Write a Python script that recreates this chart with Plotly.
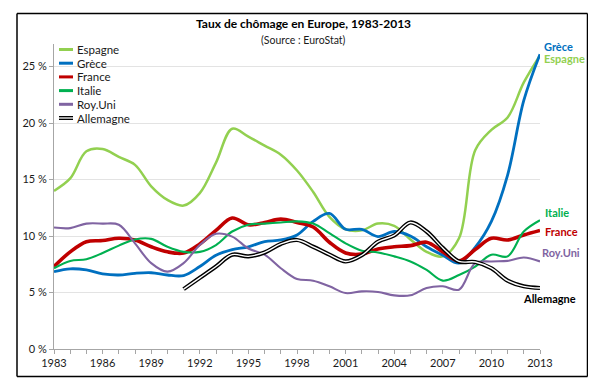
import plotly.graph_objects as go

# ---------------- data ----------------
years = list(range(1983, 2014))
series_names = ["Espagne", "Grèce", "France", "Italie", "Roy.Uni", "Allemagne"]

espagne = [14.0, 15.1, 17.5, 17.7, 17.0, 16.3, 14.4, 13.2, 12.7, 13.8,
           16.5, 19.5, 18.8, 18.0, 17.2, 15.8, 13.9, 11.7, 10.6, 10.5,
           11.1, 10.9, 9.7, 8.6, 8.2, 9.8, 17.6, 19.4, 20.5, 23.6, 26.0]
grece = [6.85, 7.1, 7.0, 6.65, 6.55, 6.7, 6.75, 6.55, 6.5, 7.3,
         8.3, 8.8, 9.05, 9.5, 9.65, 10.1, 11.3, 12.0, 10.6, 10.6,
         9.95, 10.4, 10.0, 9.05, 8.3, 7.6, 9.0, 11.3, 15.4, 22.0, 26.1]
france = [7.3, 8.6, 9.5, 9.6, 9.8, 9.65, 9.05, 8.6, 8.5, 9.3,
          10.5, 11.6, 11.0, 11.2, 11.5, 11.2, 10.8, 9.45, 8.5, 8.4,
          8.85, 9.05, 9.15, 9.45, 8.6, 7.8, 8.8, 9.8, 9.65, 10.1, 10.5]
italie = [7.15, 7.8, 7.95, 8.5, 9.15, 9.7, 9.75, 9.05, 8.6, 8.6,
          9.2, 10.4, 11.0, 11.1, 11.2, 11.3, 11.1, 10.25, 9.35, 8.7,
          8.55, 8.2, 7.75, 7.0, 6.05, 6.55, 7.3, 8.35, 8.2, 10.4, 11.4]
royuni = [10.75, 10.7, 11.1, 11.1, 11.0, 9.35, 7.6, 6.85, 7.6, 9.2,
          10.2, 9.95, 8.9, 8.35, 7.15, 6.2, 6.05, 5.55, 4.95, 5.1,
          5.05, 4.75, 4.75, 5.4, 5.55, 5.25, 7.6, 7.75, 7.8, 8.1, 7.75]
allemagne_years = list(range(1991, 2014))
allemagne = [5.3, 6.3, 7.3, 8.35, 8.2, 8.55, 9.3, 9.65, 9.05, 8.35,
             7.75, 8.3, 9.5, 10.05, 11.2, 10.4, 8.95, 7.75, 7.7, 7.15,
             6.05, 5.55, 5.4]

y_ticks = [0, 5, 10, 15, 20, 25]
x_labels_every = 3

# ---------------- style ----------------
FONT = "Lato, Liberation Sans, Arial, sans-serif"
colors = {"Espagne": "#92D050", "Grèce": "#0070C0", "France": "#C00000",
          "Italie": "#00B050", "Roy.Uni": "#8064A2", "Allemagne": "#000000"}
widths = {"Espagne": 2.5, "Grèce": 2.8, "France": 3.6, "Italie": 2.1,
          "Roy.Uni": 2.1, "Allemagne": 4.2}

# page body has an 8px default margin: figure drawn 8px in from the window corner
OFF = 8
W, H = 596 - OFF, 384 - OFF
ML, MT = 54 - OFF, 44 - OFF
MR, MB = W - (540 - OFF), H - (349 - OFF)
PW, PH = W - ML - MR, H - MT - MB


def px2paper(x, y):
    """window pixel -> paper coordinates"""
    return (x - OFF - ML) / PW, (H - MB - (y - OFF)) / PH


data = {"Espagne": (years, espagne), "Grèce": (years, grece),
        "France": (years, france), "Italie": (years, italie),
        "Roy.Uni": (years, royuni), "Allemagne": (allemagne_years, allemagne)}

fig = go.Figure()

# outer frame of the chart area (four paper-referenced lines)
BL, BT, BR, BB = 17, 13.5, 587.5, 376.5
fx0, fy1 = px2paper(BL, BT)
fx1, fy0 = px2paper(BR, BB)
for (a0, b0, a1, b1) in [(fx0, fy0, fx1, fy0), (fx0, fy1, fx1, fy1),
                         (fx0, fy0, fx0, fy1), (fx1, fy0, fx1, fy1)]:
    fig.add_shape(type="line", xref="paper", yref="paper",
                  x0=float(a0), y0=float(b0), x1=float(a1), y1=float(b1),
                  line=dict(color="#000000", width=1.5), layer="above")

for name in series_names:
    xs, ys = data[name]
    fig.add_trace(go.Scatter(
        x=xs, y=ys, mode="lines", name=name, showlegend=False,
        line=dict(color=colors[name], width=widths[name], shape="spline", smoothing=1.0),
        hoverinfo="x+y+name"))
    if name == "Allemagne":
        fig.add_trace(go.Scatter(
            x=xs, y=ys, mode="lines", showlegend=False, hoverinfo="skip",
            line=dict(color="white", width=1.4, shape="spline", smoothing=1.0)))

# end-of-line labels (anchored on last data point)
label_shift = {"Grèce": (2, 8), "Espagne": (2, -3), "Italie": (3, 8),
               "France": (3, -1), "Roy.Uni": (0, 9), "Allemagne": (-19, -10)}
for name in series_names:
    xs, ys = data[name]
    dx, dy = label_shift[name]
    fig.add_annotation(x=xs[-1], y=ys[-1], text=f"<b>{name}</b>", showarrow=False,
                       xanchor="left", yanchor="middle", xshift=dx, yshift=dy,
                       font=dict(family=FONT, size=11, color=colors[name]))

# manual compact legend (top-left)
for i, name in enumerate(series_names):
    ypx = 49.5 + i * 13.7
    x0, y0 = px2paper(59, ypx)
    x1, _ = px2paper(73, ypx)
    if name == "Allemagne":
        fig.add_shape(type="line", xref="paper", yref="paper", x0=x0, x1=x1, y0=y0, y1=y0,
                      line=dict(color="black", width=4))
        fig.add_shape(type="line", xref="paper", yref="paper", x0=x0, x1=x1, y0=y0, y1=y0,
                      line=dict(color="white", width=1.3))
    else:
        fig.add_shape(type="line", xref="paper", yref="paper", x0=x0, x1=x1, y0=y0, y1=y0,
                      line=dict(color=colors[name], width=3))
    tx, ty = px2paper(75, ypx)
    fig.add_annotation(x=tx, y=ty, xref="paper", yref="paper", text=name, showarrow=False,
                       xanchor="left", yanchor="middle",
                       font=dict(family=FONT, size=11.5, color="#1a1a1a"))

# titles
tx, ty = px2paper(303, 24)
fig.add_annotation(x=tx, y=ty, xref="paper", yref="paper",
                   text="<b>Taux de chômage en Europe, 1983-2013</b>", showarrow=False,
                   xanchor="center", yanchor="middle",
                   font=dict(family=FONT, size=12, color="#000000"))
tx, ty = px2paper(303, 40.5)
fig.add_annotation(x=tx, y=ty, xref="paper", yref="paper",
                   text="(Source : EuroStat)", showarrow=False,
                   xanchor="center", yanchor="middle",
                   font=dict(family=FONT, size=10.5, color="#1a1a1a"))

fig.update_layout(
    width=W, height=H, margin=dict(l=ML, r=MR, t=MT, b=MB),
    paper_bgcolor="white", plot_bgcolor="white",
    font=dict(family=FONT, size=11, color="#1a1a1a"),
    showlegend=False,
)
fig.update_xaxes(
    range=[1983, 2013], tickmode="array", tickvals=years,
    ticktext=[str(y) if (y - 1983) % x_labels_every == 0 else "" for y in years],
    ticks="outside", ticklen=4, tickcolor="#A6A6A6", showgrid=False,
    showline=True, linecolor="#A6A6A6", linewidth=1, zeroline=False,
    tickfont=dict(family=FONT, size=11, color="#1a1a1a"))
fig.update_yaxes(
    range=[0, 27], tickmode="array", tickvals=y_ticks,
    ticktext=[f"{v} %" for v in y_ticks],
    ticks="outside", ticklen=4, tickcolor="#A6A6A6",
    showgrid=True, gridcolor="#E3E3E3", gridwidth=1,
    showline=True, linecolor="#A6A6A6", linewidth=1, zeroline=False,
    tickfont=dict(family=FONT, size=11, color="#1a1a1a"))

fig.write_html("out.html")
